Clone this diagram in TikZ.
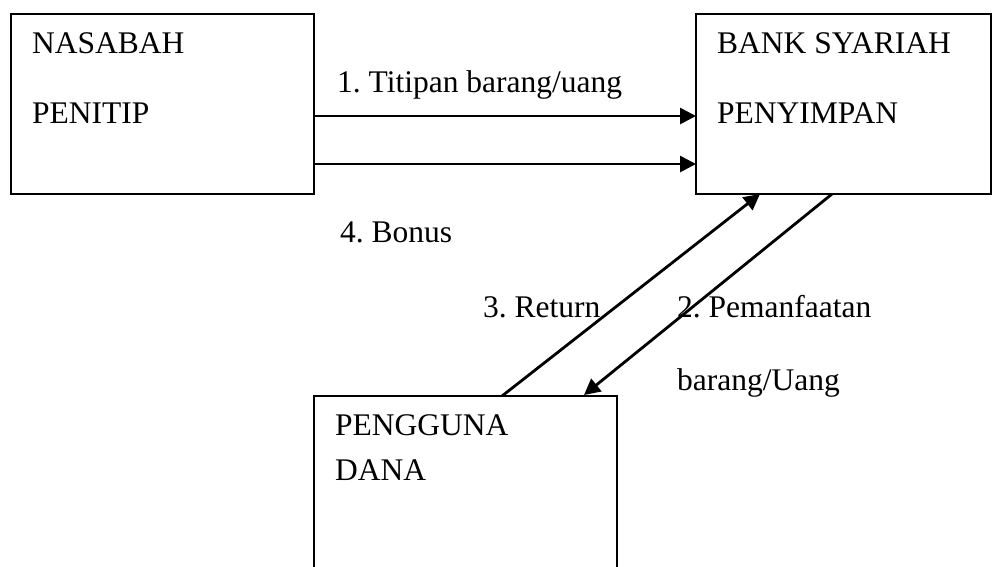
\documentclass[tikz,border=0pt]{standalone}
\usepackage{fontspec}
\setmainfont{Liberation Serif}
\usetikzlibrary{arrows.meta}
\frenchspacing
\begin{document}
\begin{tikzpicture}[x=1pt,y=-1pt,
  boxst/.style={draw,line width=2.8pt},
  lbl/.style={anchor=base west,inner sep=0pt,font=\fontsize{31.5}{36}\selectfont},
  arr/.style={line width=2.8pt,-{Triangle[length=16pt,width=16pt]}}]
\useasboundingbox (0,0) rectangle (993,566);
\draw[boxst] (11,14) rectangle (314,194);
\node[lbl] (nas1) at (32,53) {NASABAH};
\node[lbl] (nas2) at (32,123) {PENITIP};
\draw[boxst] (696,14) rectangle (991,194);
\node[lbl] (bank1) at (717,53) {BANK SYARIAH};
\node[lbl] (bank2) at (717,123) {PENYIMPAN};
\draw[boxst] (314,396) rectangle (617,580);
\node[lbl] (peng1) at (335,435) {PENGGUNA};
\node[lbl] (peng2) at (335,480) {DANA};
% connector end points
\coordinate (a1s) at (314,116);
\coordinate (a1e) at (696,116);
\coordinate (a2s) at (314,164);
\coordinate (a2e) at (696,164);
\coordinate (a3s) at (502,396);
\coordinate (a3e) at (760,194);
\coordinate (a4s) at (832,194);
\coordinate (a4e) at (584,395);
\draw[arr] (a1s) -- (a1e);
\draw[arr] (a2s) -- (a2e);
\draw[arr] (a3s) -- (a3e);
\draw[arr] (a4s) -- (a4e);
\node[lbl] (t1) at (337,92) {1. Titipan barang/uang};
\node[lbl] (t4) at (340,242) {4. Bonus};
\node[lbl] (t3) at (483,317) {3. Return};
\node[lbl] (t2) at (677,317) {2. Pemanfaatan};
\node[lbl] (t2b) at (677,390) {barang/Uang};
\end{tikzpicture}
\end{document}
